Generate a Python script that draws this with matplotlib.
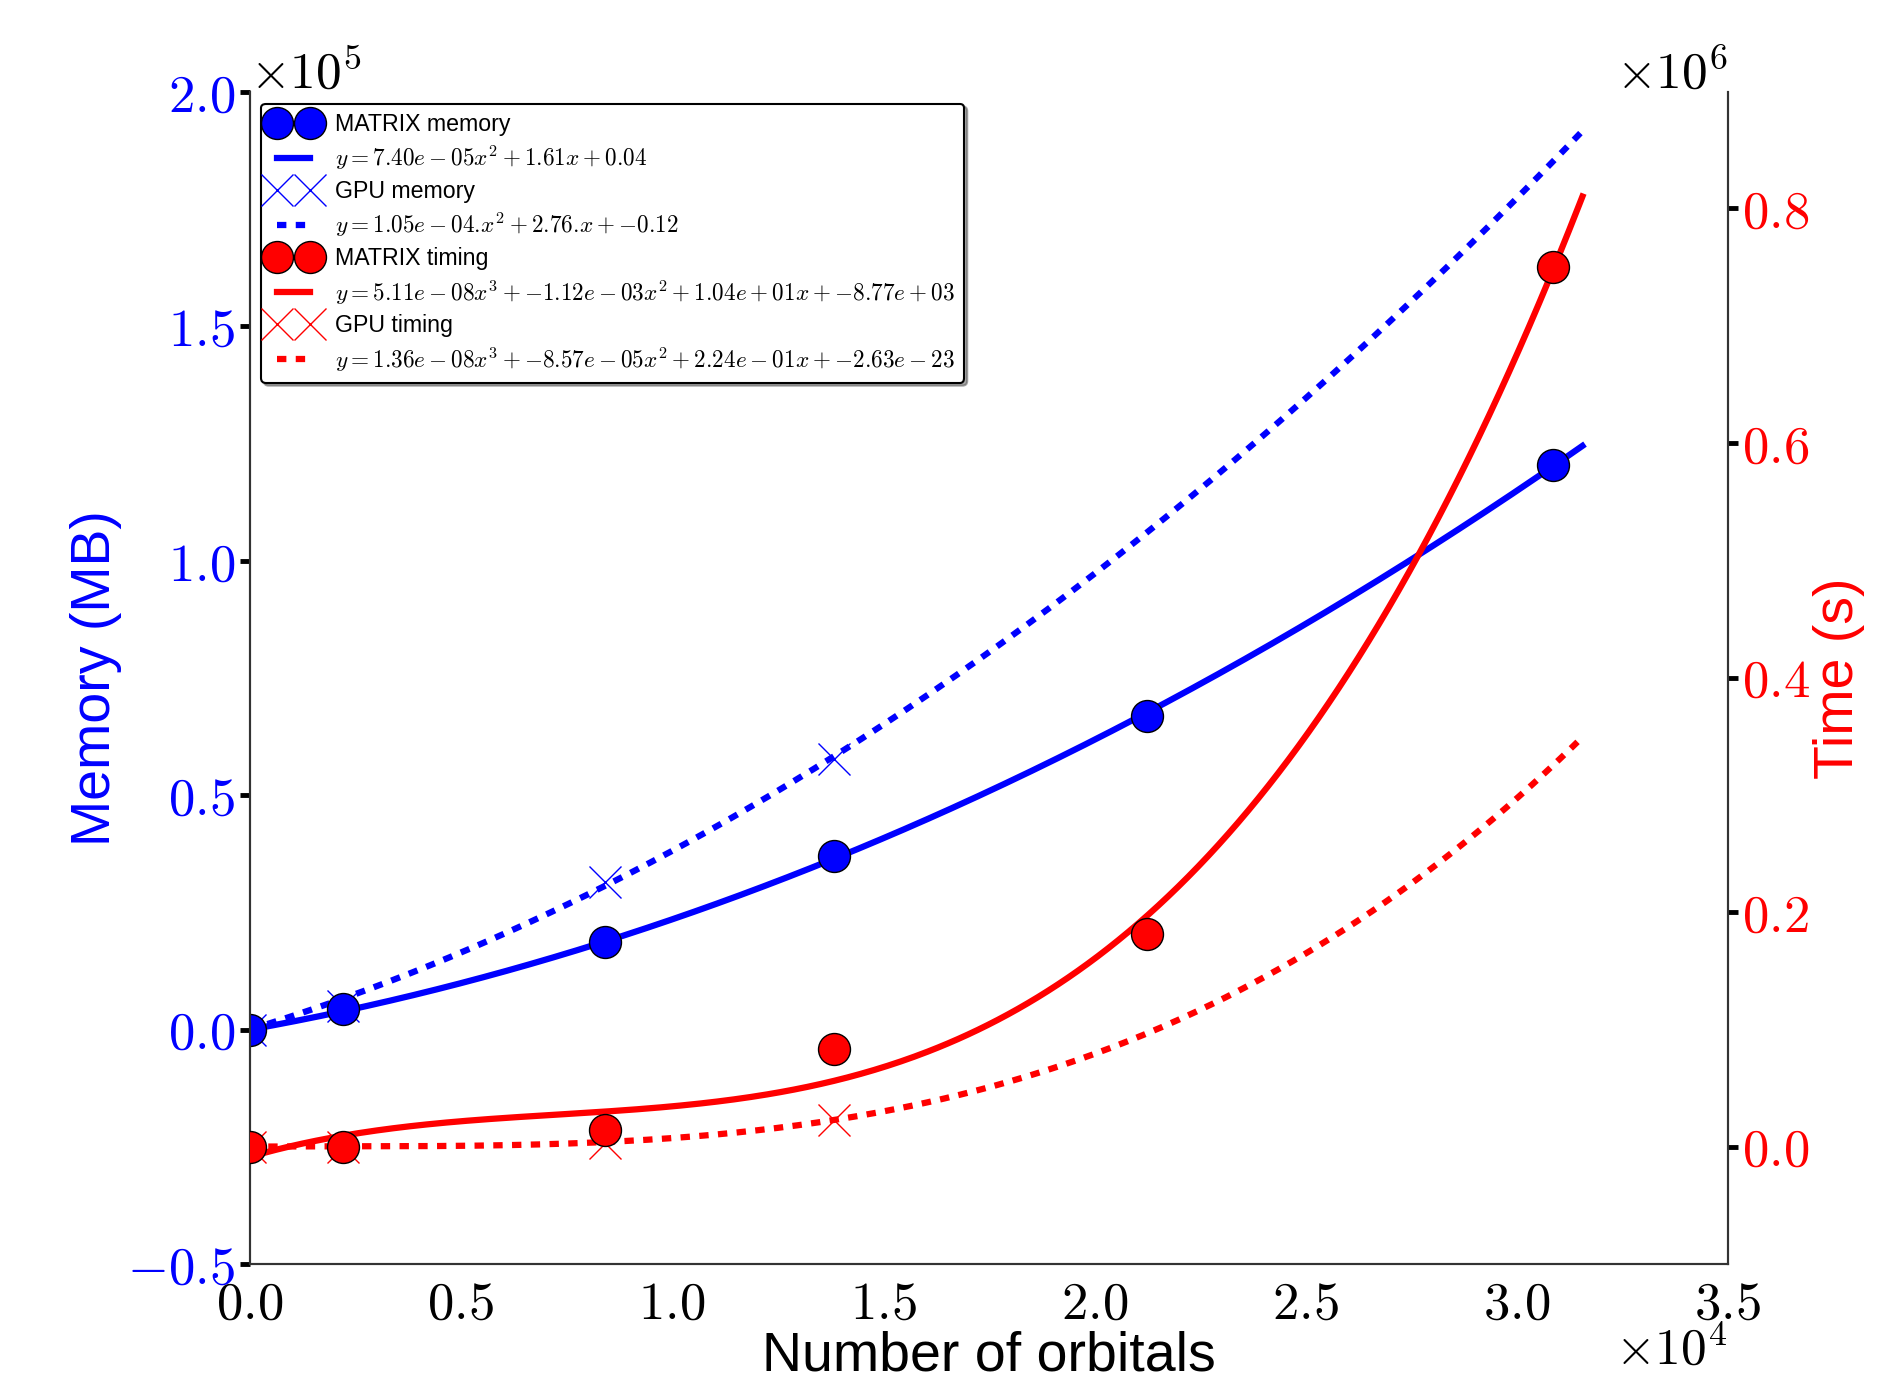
import numpy as np
import matplotlib
matplotlib.use('Agg')
import matplotlib.pyplot as plt
from matplotlib.ticker import ScalarFormatter, MultipleLocator

plt.rcParams['font.family'] = ['Liberation Sans', 'DejaVu Sans']
plt.rcParams['mathtext.fontset'] = 'cm'

# ---- data ----
orbitals = [0, 2208, 8406, 13830, 21240, 30870]
orbitals_gpu = [0, 2208, 8406, 13830]
matrix_memory = [0, 4300, 18700, 37000, 66850, 120370]
gpu_memory = [0, 5000, 31500, 57800]
matrix_timing = [0, 0, 14300, 83100, 181500, 750500]
gpu_timing = [0, 0, 2900, 22800]

# polynomial fit coefficients as printed in the legend
fit_matrix_memory = [7.40e-05, 1.61, 0.04]
fit_gpu_memory = [1.05e-04, 2.76, -0.12]
fit_matrix_timing = [5.11e-08, -1.12e-03, 1.04e+01, -8.77e+03]
fit_gpu_timing = [1.36e-08, -8.57e-05, 2.24e-01, -2.63e-23]
fit_range = [0, 31560]

labels = [
    'MATRIX memory',
    r'$y = 7.40e-05x^2 + 1.61x + 0.04$',
    'GPU memory',
    r'$y = 1.05e-04.\!x^2 + 2.76.\!x + {-0.12}$',
    'MATRIX timing',
    r'$y = 5.11e-08x^3 + {-1.12}e-03x^2 + 1.04e+01x + {-8.77}e+03$',
    'GPU timing',
    r'$y = 1.36e-08x^3 + {-8.57}e-05x^2 + 2.24e-01x + {-2.63}e-23$',
]


class CMFormatter(ScalarFormatter):
    def __init__(self, power):
        super().__init__(useMathText=True)
        self.set_powerlimits((power, power))

    def __call__(self, x, pos=None):
        return super().__call__(x, pos).replace(r'\mathdefault', '')

    def get_offset(self):
        return super().get_offset().replace(r'\mathdefault', '')


fig = plt.figure(figsize=(18.99, 13.84), dpi=100)
ax = fig.add_axes([0.1314, 0.0867, 0.9098 - 0.1314, 0.9335 - 0.0867])
ax2 = ax.twinx()

LW = 4.5
MS = 23
DOT = (0, (1.5, 1.5))

xf = np.linspace(fit_range[0], fit_range[1], 400)

l_mm, = ax.plot(xf, np.polyval(fit_matrix_memory, xf), color='blue', lw=LW, zorder=2)
l_gm, = ax.plot(xf, np.polyval(fit_gpu_memory, xf), color='blue', lw=LW, linestyle=DOT, zorder=2)
p_gm, = ax.plot(orbitals_gpu, gpu_memory, 'x', color='blue', ms=MS, mew=1, zorder=3)
p_mm, = ax.plot(orbitals, matrix_memory, 'o', mfc='blue', mec='black', ms=MS, mew=1, zorder=4)

l_mt, = ax2.plot(xf, np.polyval(fit_matrix_timing, xf), color='red', lw=LW, zorder=2)
l_gt, = ax2.plot(xf, np.polyval(fit_gpu_timing, xf), color='red', lw=LW, linestyle=DOT, zorder=2)
p_gt, = ax2.plot(orbitals_gpu, gpu_timing, 'x', color='red', ms=MS, mew=1, zorder=3)
p_mt, = ax2.plot(orbitals, matrix_timing, 'o', mfc='red', mec='black', ms=MS, mew=1, zorder=4)

ax.set_xlim(0, 35000)
ax.set_ylim(-50000, 200000)
ax2.set_ylim(-100100, 899300)

ax.xaxis.set_major_locator(MultipleLocator(5000))
ax.yaxis.set_major_locator(MultipleLocator(50000))
ax2.yaxis.set_major_locator(MultipleLocator(200000))
ax.xaxis.set_major_formatter(CMFormatter(4))
ax.yaxis.set_major_formatter(CMFormatter(5))
ax2.yaxis.set_major_formatter(CMFormatter(6))

TS = 38
OS = 37
ax.tick_params(axis='y', direction='out', length=7, width=3.5, color='black',
               labelcolor='blue', labelsize=TS)
ax.tick_params(axis='x', length=0, pad=11, labelsize=TS, labelcolor='black')
ax2.tick_params(axis='y', direction='out', length=7, width=3.5, color='black',
                labelcolor='red', labelsize=TS)
for a in (ax, ax2):
    a.spines['top'].set_visible(False)
    for s in ('left', 'right', 'bottom'):
        a.spines[s].set_color('0.2')
        a.spines[s].set_linewidth(1.5)

ax.yaxis.get_offset_text().set_fontsize(OS)
ax.yaxis.get_offset_text().set_color('black')
ax2.yaxis.get_offset_text().set_fontsize(OS)
ax2.yaxis.get_offset_text().set_color('black')

# x offset text placed manually (beside the axis label, as in the reference)
ax.xaxis.get_offset_text().set_visible(False)
ax.text(1.0, -0.0535, r'$\times10^{4}$', transform=ax.transAxes, ha='right', va='top',
        fontsize=OS, color='black')

ax.set_xlabel('Number of orbitals', fontsize=40, color='black', labelpad=1)
ax.set_ylabel('Memory (MB)', fontsize=40, color='blue', labelpad=4)
ax2.set_ylabel('Time (s)', fontsize=40, color='red', labelpad=2)

handles = [p_mm, l_mm, p_gm, l_gm, p_mt, l_mt, p_gt, l_gt]
leg = ax2.legend(handles, labels, loc='upper left', numpoints=2, fontsize=16.7,
                 shadow=True, fancybox=True, framealpha=1, edgecolor='black',
                 labelspacing=0.33)
leg.get_frame().set_linewidth(1.5)

fig.savefig('out.png', dpi=100)
